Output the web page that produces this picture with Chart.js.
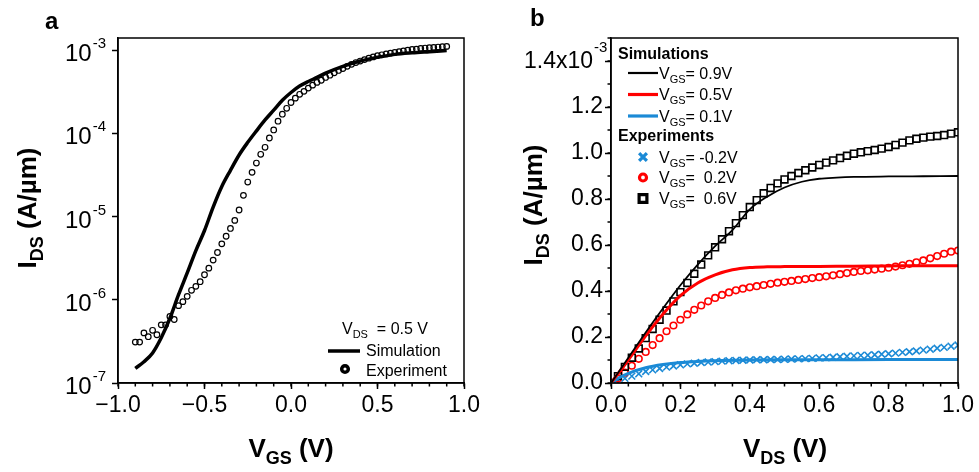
<!DOCTYPE html>
<html>
<head>
<meta charset="utf-8">
<script src="https://cdn.jsdelivr.net/npm/chart.js@4.4.1/dist/chart.umd.min.js"></script>
<style>
  body { margin: 0; background: #fff; }
  #chartA { position: absolute; left: 0; top: 0; }
  #chartB { position: absolute; left: 490px; top: 0; }
</style>
</head>
<body>
<canvas id="chartA" width="490" height="472"></canvas>
<canvas id="chartB" width="489" height="472"></canvas>
<script>
// ---- panel a: transfer curve at VDS = 0.5 V ----
const vgsSim = [-0.9, -0.85, -0.8, -0.75, -0.7, -0.65, -0.6, -0.55, -0.5, -0.45, -0.4, -0.35, -0.3, -0.25, -0.2, -0.15, -0.1, -0.05, 0, 0.05, 0.1, 0.15, 0.2, 0.3, 0.4, 0.5, 0.6, 0.7, 0.8, 0.9];
const idsSim = [1.5e-7, 1.8e-7, 2.3e-7, 3.5e-7, 6e-7, 1.15e-6, 2.1e-6, 3.9e-6, 6.8e-6, 1.3e-5, 2.3e-5, 3.6e-5, 5.5e-5, 7.8e-5, 1.07e-4, 1.45e-4, 1.9e-4, 2.5e-4, 3.1e-4, 3.7e-4, 4.2e-4, 4.7e-4, 5.3e-4, 6.4e-4, 7.4e-4, 8.2e-4, 8.9e-4, 9.3e-4, 9.6e-4, 9.9e-4];

const vgsExp = [-0.9, -0.875, -0.85, -0.825, -0.8, -0.775, -0.75, -0.725, -0.7, -0.675, -0.65, -0.625, -0.6, -0.575, -0.55, -0.525, -0.5, -0.475, -0.45, -0.425, -0.4, -0.375, -0.35, -0.325, -0.3, -0.275, -0.25, -0.225, -0.2, -0.175, -0.15, -0.125, -0.1, -0.075, -0.05, -0.025, 0, 0.025, 0.05, 0.075, 0.1, 0.125, 0.15, 0.175, 0.2, 0.225, 0.25, 0.275, 0.3, 0.325, 0.35, 0.375, 0.4, 0.425, 0.45, 0.475, 0.5, 0.525, 0.55, 0.575, 0.6, 0.625, 0.65, 0.675, 0.7, 0.725, 0.75, 0.775, 0.8, 0.825, 0.85, 0.875, 0.9];
const idsExp = [3.1e-7, 3.1e-7, 4.0e-7, 3.6e-7, 4.3e-7, 3.8e-7, 5.0e-7, 5.0e-7, 6.3e-7, 5.8e-7, 8.5e-7, 9.5e-7, 1.1e-6, 1.3e-6, 1.45e-6, 1.65e-6, 2.0e-6, 2.4e-6, 3.0e-6, 3.7e-6, 4.7e-6, 5.8e-6, 7.2e-6, 9.0e-6, 1.2e-5, 1.8e-5, 2.6e-5, 3.4e-5, 4.4e-5, 5.6e-5, 6.8e-5, 8.8e-5, 1.1e-4, 1.4e-4, 1.7e-4, 2.0e-4, 2.35e-4, 2.65e-4, 2.95e-4, 3.2e-4, 3.5e-4, 3.8e-4, 4.1e-4, 4.35e-4, 4.7e-4, 5.0e-4, 5.35e-4, 5.7e-4, 6.0e-4, 6.4e-4, 6.75e-4, 7.1e-4, 7.4e-4, 7.7e-4, 8.0e-4, 8.3e-4, 8.6e-4, 8.8e-4, 9.0e-4, 9.2e-4, 9.4e-4, 9.6e-4, 9.8e-4, 1.0e-3, 1.02e-3, 1.03e-3, 1.05e-3, 1.06e-3, 1.07e-3, 1.08e-3, 1.09e-3, 1.1e-3, 1.11e-3];

// ---- panel b: output curves, current in units of 1e-3 A/um ----
const vdsSim09 = [0, 0.05, 0.1, 0.15, 0.2, 0.25, 0.3, 0.35, 0.4, 0.45, 0.5, 0.55, 0.6, 0.65, 0.7, 0.8, 0.9, 1.0];
const idsSim09 = [0, 0.11, 0.22, 0.325, 0.425, 0.515, 0.595, 0.665, 0.755, 0.81, 0.85, 0.875, 0.888, 0.893, 0.896, 0.898, 0.899, 0.9];
const vdsSim05 = [0, 0.05, 0.1, 0.15, 0.2, 0.25, 0.3, 0.35, 0.4, 0.45, 0.5, 0.6, 0.7, 0.8, 0.9, 1.0];
const idsSim05 = [0, 0.1, 0.205, 0.3, 0.38, 0.435, 0.47, 0.492, 0.502, 0.505, 0.506, 0.507, 0.508, 0.509, 0.51, 0.51];
const vdsSim01 = [0, 0.02, 0.05, 0.1, 0.15, 0.2, 0.25, 0.3, 0.4, 0.5, 0.6, 0.8, 1.0];
const idsSim01 = [0, 0.02, 0.042, 0.066, 0.08, 0.089, 0.094, 0.097, 0.1, 0.101, 0.101, 0.102, 0.102];

const vdsExp = [0, 0.02, 0.04, 0.06, 0.08, 0.1, 0.12, 0.14, 0.16, 0.18, 0.2, 0.22, 0.24, 0.26, 0.28, 0.3, 0.32, 0.34, 0.36, 0.38, 0.4, 0.42, 0.44, 0.46, 0.48, 0.5, 0.52, 0.54, 0.56, 0.58, 0.6, 0.62, 0.64, 0.66, 0.68, 0.7, 0.72, 0.74, 0.76, 0.78, 0.8, 0.82, 0.84, 0.86, 0.88, 0.9, 0.92, 0.94, 0.96, 0.98, 1.0];
const idsExpM02 = [0, 0.01, 0.02, 0.03, 0.04, 0.05, 0.057, 0.063, 0.069, 0.074, 0.079, 0.083, 0.086, 0.089, 0.091, 0.093, 0.095, 0.097, 0.098, 0.099, 0.1, 0.101, 0.101, 0.102, 0.102, 0.103, 0.104, 0.105, 0.106, 0.107, 0.109, 0.11, 0.112, 0.114, 0.116, 0.118, 0.12, 0.121, 0.123, 0.125, 0.127, 0.13, 0.133, 0.136, 0.139, 0.143, 0.147, 0.151, 0.155, 0.16, 0.165];
const idsExp02 = [0, 0.02, 0.045, 0.075, 0.105, 0.135, 0.165, 0.195, 0.225, 0.25, 0.275, 0.298, 0.318, 0.337, 0.355, 0.37, 0.383, 0.394, 0.403, 0.41, 0.416, 0.421, 0.426, 0.431, 0.436, 0.44, 0.444, 0.448, 0.452, 0.456, 0.46, 0.464, 0.468, 0.473, 0.478, 0.483, 0.487, 0.49, 0.493, 0.497, 0.501, 0.506, 0.512, 0.518, 0.525, 0.533, 0.542, 0.552, 0.562, 0.571, 0.576];
const idsExp06 = [0, 0.03, 0.07, 0.11, 0.15, 0.195, 0.235, 0.275, 0.315, 0.355, 0.395, 0.435, 0.475, 0.515, 0.555, 0.59, 0.625, 0.66, 0.695, 0.73, 0.765, 0.795, 0.825, 0.848, 0.868, 0.885, 0.9, 0.913, 0.925, 0.937, 0.948, 0.958, 0.968, 0.978, 0.988, 0.997, 1.003, 1.008, 1.013, 1.019, 1.026, 1.035, 1.045, 1.055, 1.062, 1.067, 1.071, 1.074, 1.078, 1.084, 1.09];

const SANS = '"Liberation Sans", Arial, sans-serif';
const BLUE = '#1b8ad6';
const RED = '#ff0000';

function pts(xs, ys) {
    return xs.map((x, i) => ({ x: x, y: ys[i] }));
}

// text with sub/superscript pieces: parts = [[text, ''|'sub'|'sup'], ...]
function rich(ctx, x, y, parts, size, bold, align) {
    const weight = bold ? 'bold ' : '';
    let total = 0;
    const pieces = parts.map(p => {
        const s = p[1] ? Math.round(size * 0.68) : size;
        ctx.font = weight + s + 'px ' + SANS;
        const w = ctx.measureText(p[0]).width;
        total += w;
        return { t: p[0], k: p[1], s: s, w: w };
    });
    let cx = align === 'center' ? x - total / 2 : (align === 'right' ? x - total : x);
    ctx.textAlign = 'left';
    ctx.textBaseline = 'alphabetic';
    ctx.fillStyle = '#000';
    pieces.forEach(p => {
        ctx.font = weight + p.s + 'px ' + SANS;
        const dy = p.k === 'sub' ? size * 0.27 : (p.k === 'sup' ? -size * 0.45 : 0);
        ctx.fillText(p.t, cx, y + dy);
        cx += p.w;
    });
}

function minorTicks(ctx, chart, axis, step) {
    const s = chart.scales[axis];
    const a = chart.chartArea;
    const n = Math.round((s.max - s.min) / step);
    ctx.beginPath();
    for (let i = 0; i <= n; i++) {
        const p = s.getPixelForValue(s.min + i * step);
        if (axis === 'x') { ctx.moveTo(p, a.bottom); ctx.lineTo(p, a.bottom + 3.5); }
        else { ctx.moveTo(a.left - 3.5, p); ctx.lineTo(a.left, p); }
    }
    ctx.stroke();
}

function legendLine(ctx, x1, x2, y, color, width) {
    ctx.strokeStyle = color;
    ctx.lineWidth = width;
    ctx.beginPath();
    ctx.moveTo(x1, y);
    ctx.lineTo(x2, y);
    ctx.stroke();
}

function legendMark(ctx, style, x, y, color, r, w) {
    ctx.strokeStyle = color;
    ctx.fillStyle = 'rgba(0,0,0,0)';
    Chart.helpers.drawPoint(ctx, { pointStyle: style, radius: r, borderWidth: w, rotation: 0 }, x, y);
}

const decoA = {
    id: 'decoA',
    afterDraw(chart) {
        const ctx = chart.ctx;
        const a = chart.chartArea;
        ctx.save();
        ctx.strokeStyle = '#000';
        ctx.lineWidth = 1.5;
        ctx.strokeRect(a.left, a.top, a.right - a.left, a.bottom - a.top);
        minorTicks(ctx, chart, 'x', 0.1);

        // decade labels 10^n
        const ys = chart.scales.y;
        ys.ticks.forEach(t => {
            const p = ys.getPixelForValue(t.value);
            const e = Math.round(Math.log10(t.value));
            ctx.font = '15px ' + SANS;
            const we = ctx.measureText('-' + Math.abs(e)).width;
            ctx.fillStyle = '#000';
            ctx.textAlign = 'left';
            ctx.textBaseline = 'alphabetic';
            ctx.fillText('-' + Math.abs(e), 106 - we, p - 2);
            ctx.font = '24px ' + SANS;
            ctx.textAlign = 'right';
            ctx.fillText('10', 106 - we - 1, p + 11);
        });

        // axis titles
        rich(ctx, 291, 457, [['V', ''], ['GS', 'sub'], [' (V)', '']], 26, true, 'center');
        ctx.save();
        ctx.translate(36, 208);
        ctx.rotate(-Math.PI / 2);
        rich(ctx, 0, 0, [['I', ''], ['DS', 'sub'], [' (A/\u00b5m)', '']], 26, true, 'center');
        ctx.restore();

        // panel letter
        ctx.font = 'bold 24px ' + SANS;
        ctx.textAlign = 'left';
        ctx.fillText('a', 45, 29);

        // legend
        rich(ctx, 342, 334, [['V', ''], ['DS', 'sub'], ['  = 0.5 V', '']], 16, false, 'left');
        legendLine(ctx, 328, 360, 351, '#000', 3.5);
        rich(ctx, 366, 356, [['Simulation', '']], 16, false, 'left');
        legendMark(ctx, 'circle', 345, 369, '#000', 3.3, 1.5);
        rich(ctx, 366, 376, [['Experiment', '']], 16, false, 'left');
        ctx.restore();
    }
};

const decoB = {
    id: 'decoB',
    afterDraw(chart) {
        const ctx = chart.ctx;
        const a = chart.chartArea;
        ctx.save();
        ctx.strokeStyle = '#000';
        ctx.lineWidth = 1.5;
        ctx.strokeRect(a.left, a.top, a.right - a.left, a.bottom - a.top);
        minorTicks(ctx, chart, 'x', 0.05);
        minorTicks(ctx, chart, 'y', 0.1);

        // top tick label 1.4x10^-3
        const p14 = chart.scales.y.getPixelForValue(1.4);
        ctx.fillStyle = '#000';
        ctx.font = '23px ' + SANS;
        ctx.textAlign = 'right';
        ctx.textBaseline = 'alphabetic';
        ctx.fillText('1.4x10', 103, p14 + 7);
        ctx.font = '15px ' + SANS;
        ctx.textAlign = 'left';
        ctx.fillText('-3', 104, p14 - 9);

        // axis titles
        rich(ctx, 295, 457, [['V', ''], ['DS', 'sub'], [' (V)', '']], 26, true, 'center');
        ctx.save();
        ctx.translate(52, 205);
        ctx.rotate(-Math.PI / 2);
        rich(ctx, 0, 0, [['I', ''], ['DS', 'sub'], [' (A/\u00b5m)', '']], 26, true, 'center');
        ctx.restore();

        ctx.font = 'bold 24px ' + SANS;
        ctx.textAlign = 'left';
        ctx.fillText('b', 40, 26);

        // legend
        rich(ctx, 128, 59, [['Simulations', '']], 16, true, 'left');
        legendLine(ctx, 138, 168, 73, '#000', 2.2);
        rich(ctx, 169, 78.5, [['V', ''], ['GS', 'sub'], ['= 0.9V', '']], 16, false, 'left');
        legendLine(ctx, 138, 168, 94.5, RED, 3.2);
        rich(ctx, 169, 100, [['V', ''], ['GS', 'sub'], ['= 0.5V', '']], 16, false, 'left');
        legendLine(ctx, 138, 168, 116, BLUE, 3.2);
        rich(ctx, 169, 121.5, [['V', ''], ['GS', 'sub'], ['= 0.1V', '']], 16, false, 'left');
        rich(ctx, 128, 141, [['Experiments', '']], 16, true, 'left');
        legendMark(ctx, 'crossRot', 153, 157, BLUE, 5.5, 2);
        rich(ctx, 169, 162.5, [['V', ''], ['GS', 'sub'], ['= -0.2V', '']], 16, false, 'left');
        legendMark(ctx, 'circle', 153, 177.5, RED, 3.5, 1.8);
        rich(ctx, 169, 183, [['V', ''], ['GS', 'sub'], ['=  0.2V', '']], 16, false, 'left');
        legendMark(ctx, 'rect', 153, 198.5, '#000', 5.5, 1.6);
        rich(ctx, 169, 204, [['V', ''], ['GS', 'sub'], ['=  0.6V', '']], 16, false, 'left');
        ctx.restore();
    }
};

function axisBase() {
    return {
        type: 'linear',
        border: { color: '#000', width: 1.5 },
        grid: { drawOnChartArea: false, drawTicks: true, tickLength: 6, tickColor: '#000', tickWidth: 1.5 },
        title: { display: false }
    };
}

const fmt = v => {
    const s = Number(v).toFixed(1);
    return s.replace('-', '\u2212');
};

// Panel a
const xA = axisBase();
Object.assign(xA, {
    min: -1, max: 1,
    ticks: { stepSize: 0.5, color: '#000', font: { family: SANS, size: 23 }, padding: 3, maxRotation: 0, callback: fmt },
    afterFit: s => { s.height = 89; }
});
const yA = axisBase();
Object.assign(yA, {
    type: 'logarithmic',
    min: 1e-7, max: 1.4e-3,
    ticks: { display: false },
    afterBuildTicks: s => {
        s.ticks = s.ticks.filter(t => {
            const l = Math.log10(t.value);
            return Math.abs(l - Math.round(l)) < 1e-6;
        });
    },
    afterFit: s => { s.width = 118; }
});

new Chart(document.getElementById('chartA'), {
    type: 'scatter',
    data: {
        datasets: [{
            label: 'Simulation',
            data: pts(vgsSim, idsSim),
            showLine: true,
            borderColor: '#000',
            borderWidth: 3.5,
            pointRadius: 0,
            pointHoverRadius: 0,
            cubicInterpolationMode: 'monotone'
        }, {
            label: 'Experiment',
            data: pts(vgsExp, idsExp),
            showLine: false,
            pointStyle: 'circle',
            pointRadius: 2.8,
            pointBorderWidth: 1.2,
            pointBorderColor: '#000',
            pointBackgroundColor: 'rgba(0,0,0,0)'
        }]
    },
    options: {
        responsive: false,
        animation: false,
        events: [],
        layout: { padding: { top: 38, right: 26, left: 0, bottom: 0 } },
        plugins: { legend: { display: false }, tooltip: { enabled: false } },
        scales: { x: xA, y: yA }
    },
    plugins: [decoA]
});

// Panel b
const xB = axisBase();
Object.assign(xB, {
    min: 0, max: 1,
    ticks: { stepSize: 0.2, color: '#000', font: { family: SANS, size: 23 }, padding: 3, maxRotation: 0, callback: fmt },
    afterFit: s => { s.height = 89; }
});
const yB = axisBase();
Object.assign(yB, {
    min: 0, max: 1.5,
    ticks: {
        stepSize: 0.2, includeBounds: false, color: '#000', font: { family: SANS, size: 23 }, padding: 2,
        callback: v => (Math.abs(v - 1.4) < 1e-6 ? '' : fmt(v))
    },
    afterFit: s => { s.width = 121; }
});

const simStyle = (color, width) => ({
    showLine: true, borderColor: color, borderWidth: width,
    pointRadius: 0, pointHoverRadius: 0, cubicInterpolationMode: 'monotone'
});
const expStyle = (style, color, r, w) => ({
    showLine: false, pointStyle: style, pointRadius: r, pointBorderWidth: w,
    pointBorderColor: color, pointBackgroundColor: 'rgba(0,0,0,0)'
});

new Chart(document.getElementById('chartB'), {
    type: 'scatter',
    data: {
        datasets: [
            Object.assign({ label: 'VGS=0.9V', data: pts(vdsSim09, idsSim09) }, simStyle('#000', 1.8)),
            Object.assign({ label: 'VGS=0.5V', data: pts(vdsSim05, idsSim05) }, simStyle(RED, 3)),
            Object.assign({ label: 'VGS=0.1V', data: pts(vdsSim01, idsSim01) }, simStyle(BLUE, 3)),
            Object.assign({ label: 'VGS=0.6V exp', data: pts(vdsExp, idsExp06) }, expStyle('rect', '#000', 4.8, 1.6)),
            Object.assign({ label: 'VGS=0.2V exp', data: pts(vdsExp, idsExp02) }, expStyle('circle', RED, 3.3, 1.6)),
            Object.assign({ label: 'VGS=-0.2V exp', data: pts(vdsExp, idsExpM02) }, expStyle('crossRot', BLUE, 4.8, 1.6))
        ]
    },
    options: {
        responsive: false,
        animation: false,
        events: [],
        layout: { padding: { top: 38, right: 21, left: 0, bottom: 0 } },
        plugins: { legend: { display: false }, tooltip: { enabled: false } },
        scales: { x: xB, y: yB }
    },
    plugins: [decoB]
});
</script>
</body>
</html>
